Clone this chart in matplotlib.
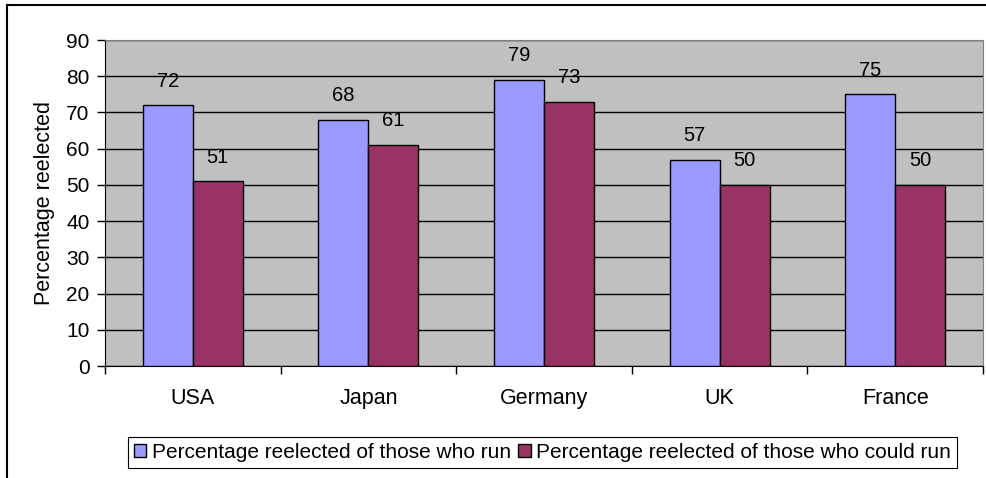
import matplotlib as mpl
mpl.use('Agg')
import matplotlib.pyplot as plt
import numpy as np
from matplotlib.lines import Line2D

countries = ['USA', 'Japan', 'Germany', 'UK', 'France']
who_run = [72, 68, 79, 57, 75]
could_run = [51, 61, 73, 50, 50]
series_names = ['Percentage reelected of those who run',
                'Percentage reelected of those who could run']
y_ticks = [0, 10, 20, 30, 40, 50, 60, 70, 80, 90]

plt.rcParams['font.family'] = ['Liberation Sans', 'DejaVu Sans']

fig = plt.figure(figsize=(9.86, 4.78), dpi=100)
ax = fig.add_axes([105 / 986, 1 - 366 / 478, 878 / 986, 326 / 478])
ax.set_facecolor('#C0C0C0')

x = np.arange(len(countries))
w = 0.285
b1 = ax.bar(x - w / 2, who_run, w, color='#9999FF', edgecolor='black', linewidth=1, zorder=3)
b2 = ax.bar(x + w / 2, could_run, w, color='#993366', edgecolor='black', linewidth=1, zorder=3)

for bars in (b1, b2):
  for r in bars:
    ax.annotate('{}'.format(int(r.get_height())),
                (r.get_x() + r.get_width() / 2, r.get_height()),
                xytext=(0, 10.5), textcoords='offset points',
                ha='center', va='bottom', fontsize=14.5)

ax.set_xlim(-0.5, len(countries) - 0.5)
ax.set_ylim(0, 90)
ax.set_yticks(y_ticks)
ax.yaxis.grid(True, color='black', linewidth=1, zorder=0)
ax.set_axisbelow(True)
ax.tick_params(axis='y', labelsize=15, length=6, width=1, direction='out', pad=5)

# category boundary ticks on x, labels in centers
ax.set_xticks(np.arange(-0.5, len(countries), 1))
ax.set_xticklabels([])
ax.set_xticks(x, minor=True)
ax.set_xticklabels(countries, minor=True)
ax.tick_params(axis='x', which='major', length=6, width=1, direction='out')
ax.tick_params(axis='x', which='minor', length=0, labelsize=15.5, pad=16)

ax.spines['left'].set_color('black')
ax.spines['bottom'].set_color('black')
ax.spines['top'].set_color('#808080')
ax.spines['right'].set_color('#808080')

ax.set_ylabel('Percentage reelected', fontsize=15.5, labelpad=8)

handles = [plt.Rectangle((0, 0), 1, 1, facecolor='#9999FF', edgecolor='black'),
           plt.Rectangle((0, 0), 1, 1, facecolor='#993366', edgecolor='black')]
leg = fig.legend(handles, series_names, loc='center', bbox_to_anchor=(0.55, 0.053),
                 ncol=2, fontsize=15, fancybox=False, shadow=False, framealpha=1,
                 edgecolor='black', handlelength=0.6, handleheight=0.6,
                 handletextpad=0.25, columnspacing=0.35, borderpad=0.3, borderaxespad=0)
leg.get_frame().set_linewidth(0.8)

# outer chart border (top and left visible)
fig.add_artist(Line2D([7 / 986, 1], [1 - 5 / 478, 1 - 5 / 478], color='black', linewidth=1.5))
fig.add_artist(Line2D([7 / 986, 7 / 986], [0, 1 - 5 / 478], color='black', linewidth=1.5))

plt.savefig('out.png', dpi=100)
plt.close()
